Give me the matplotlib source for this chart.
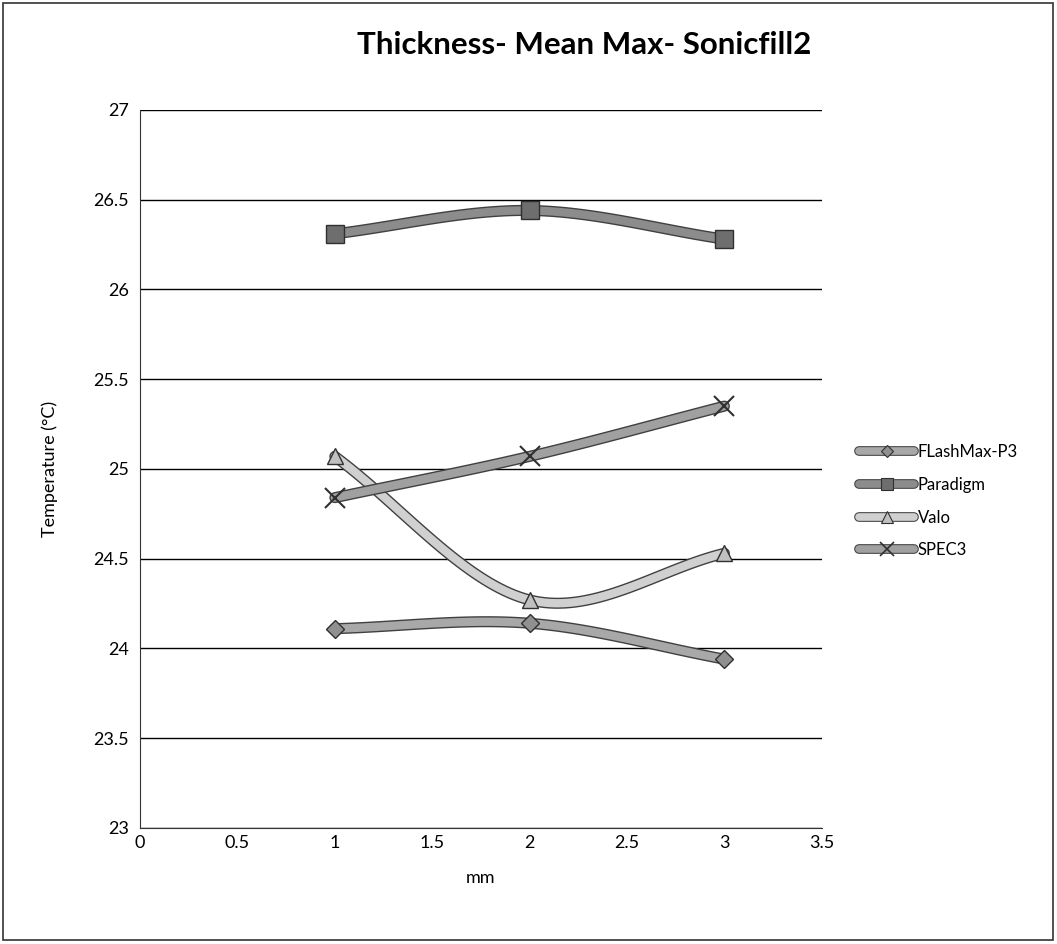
import matplotlib
matplotlib.use('Agg')
import matplotlib.pyplot as plt
import matplotlib.patheffects as pe
from matplotlib.patches import Rectangle
from matplotlib.lines import Line2D
import numpy as np

plt.rcParams['font.family'] = ['Lato', 'DejaVu Sans']

thickness = [1, 2, 3]
flashmax = [24.11, 24.14, 23.94]
paradigm = [26.31, 26.44, 26.28]
valo = [25.07, 24.27, 24.53]
spec3 = [24.84, 25.07, 25.35]

names = ['FLashMax-P3', 'Paradigm', 'Valo', 'SPEC3']
series = [flashmax, paradigm, valo, spec3]
line_colors = ['#a8a8a8', '#8c8c8c', '#d0d0d0', '#a0a0a0']
markers = ['D', 's', '^', 'x']
marker_sizes = [9, 13, 12, 14]
marker_faces = ['#909090', '#6e6e6e', '#c0c0c0', '#505050']


def smooth(x, y, n=40):
    # Catmull-Rom style curve through the points (like Excel "smoothed line")
    x = np.asarray(x, float)
    y = np.asarray(y, float)
    px = np.concatenate([[2 * x[0] - x[1]], x, [2 * x[-1] - x[-2]]])
    py = np.concatenate([[2 * y[0] - y[1]], y, [2 * y[-1] - y[-2]]])
    xs, ys = [], []
    t = np.linspace(0, 1, n)
    for i in range(1, len(px) - 2):
        p0, p1, p2, p3 = [np.array([px[j], py[j]]) for j in range(i - 1, i + 3)]
        c1 = p1 + (p2 - p0) / 6
        c2 = p2 - (p3 - p1) / 6
        pts = ((1 - t) ** 3)[:, None] * p1 + (3 * (1 - t) ** 2 * t)[:, None] * c1 \
            + (3 * (1 - t) * t ** 2)[:, None] * c2 + (t ** 3)[:, None] * p2
        xs.extend(pts[:, 0])
        ys.extend(pts[:, 1])
    return np.array(xs), np.array(ys)


fig = plt.figure(figsize=(10.57, 9.44), dpi=100)
ax = fig.add_axes([0.1325, 0.123, 0.645, 0.7605])

handles = []
line_fx = [pe.Stroke(linewidth=8, foreground='#404040'), pe.Normal()]
for name, vals, lc, m, ms, mf in zip(names, series, line_colors, markers, marker_sizes, marker_faces):
    sx, sy = smooth(thickness, vals)
    ax.plot(sx, sy, color=lc, linewidth=6, solid_capstyle='round',
            path_effects=line_fx, zorder=3)
    if m == 'x':
        ax.plot(thickness, vals, linestyle='none', marker=m, markersize=ms,
                markeredgecolor='#303030', markeredgewidth=1.5, zorder=4)
    else:
        ax.plot(thickness, vals, linestyle='none', marker=m, markersize=ms,
                markerfacecolor=mf, markeredgecolor='#303030', markeredgewidth=1, zorder=4)
    # legend handle: thick line + small marker
    h_line = Line2D([], [], color=lc, linewidth=5.5, solid_capstyle='round',
                    path_effects=[pe.Stroke(linewidth=7, foreground='#404040'), pe.Normal()])
    h_mark = Line2D([], [], linestyle='none', marker=m, markersize=ms * 0.7,
                    markerfacecolor=mf, markeredgecolor='#303030',
                    markeredgewidth=1.2 if m == 'x' else 0.8)
    handles.append((h_line, h_mark))

ax.set_xlim(0, 3.5)
ax.set_ylim(23, 27)
ax.set_xticks(np.arange(0, 3.51, 0.5))
ax.set_xticklabels(['0', '0.5', '1', '1.5', '2', '2.5', '3', '3.5'])
ax.set_yticks(np.arange(23, 27.01, 0.5))
ax.set_yticklabels(['23', '23.5', '24', '24.5', '25', '25.5', '26', '26.5', '27'])
ax.tick_params(axis='x', labelsize=13, length=0, pad=5)
ax.tick_params(axis='y', labelsize=13, length=0, pad=8)
ax.grid(axis='y', color='black', linewidth=1)
ax.set_axisbelow(True)
ax.spines['top'].set_visible(False)
ax.spines['right'].set_visible(False)
ax.spines['left'].set_color('#333333')
ax.spines['bottom'].set_color('#333333')

ax.set_xlabel('mm', fontsize=13)
ax.set_ylabel('Temperature (°C)', fontsize=13)
ax.xaxis.set_label_coords(0.5, -0.058)
ax.yaxis.set_label_coords(-0.12, 0.5)
fig.text(0.553, 0.952, 'Thickness- Mean Max- Sonicfill2', ha='center', va='center',
         fontsize=22.5, fontweight='bold')

ax.legend(handles, names, loc='center left', bbox_to_anchor=(0.805, 0.469),
          bbox_transform=fig.transFigure, frameon=False, fontsize=12,
          handlelength=3.3, handletextpad=0.2, labelspacing=1.0, borderpad=0)

fig.patches.append(Rectangle((0.003, 0.004), 0.993, 0.993, transform=fig.transFigure,
                             fill=False, edgecolor='#333333', linewidth=1.2))

fig.savefig('out.png', dpi=100)
